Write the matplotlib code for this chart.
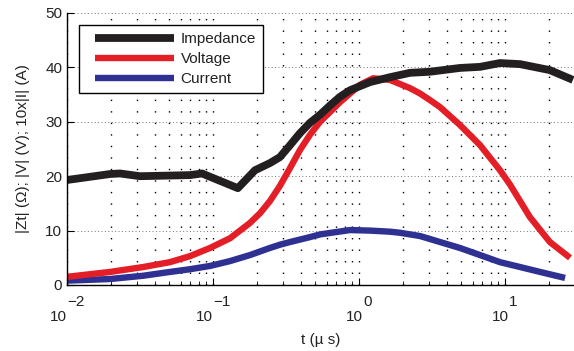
import numpy as np
import matplotlib.pyplot as plt
from matplotlib.ticker import NullFormatter, LogLocator

plt.rcParams['font.family'] = ['Liberation Sans', 'DejaVu Sans']

# time (us) and values
t_imp = [0.01, 0.0197, 0.0231, 0.0316, 0.0695, 0.0841, 0.148, 0.194, 0.245,
         0.287, 0.337, 0.394, 0.461, 0.541, 0.633, 0.741, 0.867, 1.19, 1.63,
         2.23, 3.06, 4.92, 6.75, 9.24, 12.7, 20.3, 29.2]
impedance = [19.3, 20.4, 20.5, 20.0, 20.2, 20.5, 17.8, 21.1, 22.4,
             23.5, 25.7, 27.9, 29.8, 31.3, 33.0, 34.6, 35.8, 37.3, 38.2,
             39.0, 39.2, 39.9, 40.1, 40.8, 40.6, 39.5, 37.7]

t_volt = [0.01, 0.0197, 0.0332, 0.0507, 0.0695, 0.0953, 0.131, 0.179, 0.210,
          0.245, 0.287, 0.337, 0.394, 0.461, 0.541, 0.741, 1.016, 1.25, 1.63,
          2.23, 2.62, 3.06, 3.59, 4.92, 6.75, 9.24, 10.8, 14.8, 20.3, 27.9]
voltage = [1.5, 2.4, 3.3, 4.2, 5.3, 6.8, 8.6, 11.4, 13.2,
           15.4, 18.2, 21.5, 24.8, 27.6, 30.0, 33.6, 36.8, 38.0, 37.7,
           36.2, 35.2, 34.0, 32.7, 29.4, 25.7, 21.1, 18.5, 12.5, 7.9, 5.0]

t_curr = [0.01, 0.0197, 0.0332, 0.0507, 0.0695, 0.0953, 0.131, 0.179, 0.245,
          0.287, 0.337, 0.461, 0.541, 0.867, 1.19, 1.63, 1.91, 2.62, 3.59,
          4.92, 6.75, 9.24, 12.7, 17.4, 25.8]
current = [0.8, 1.1, 1.7, 2.4, 2.9, 3.5, 4.4, 5.5, 6.8,
           7.4, 7.9, 8.8, 9.3, 10.1, 10.0, 9.8, 9.6, 9.0, 7.9,
           6.8, 5.5, 4.2, 3.3, 2.4, 1.3]

labels = ['Impedance', 'Voltage', 'Current']
decades = [-2, -1, 0, 1]

c_txt = '#222222'

fig = plt.figure(figsize=(5.74, 3.51), dpi=100)
ax = fig.add_axes([67/574, 1 - 285/351, 507/574, 272/351])

kw = dict(solid_capstyle='butt', solid_joinstyle='round')
hi, = ax.plot(t_curr, current, color='#2e3192', lw=4.6, **kw)
hv, = ax.plot(t_volt, voltage, color='#e41e26', lw=4.6, **kw)
hz, = ax.plot(t_imp, impedance, color='#231f20', lw=5.6, **kw)

ax.set_xscale('log')
ax.set_xlim(0.01, 29.7)
ax.set_ylim(0, 50)
ax.set_yticks([0, 10, 20, 30, 40, 50])
ax.xaxis.set_major_locator(LogLocator(base=10, numticks=10))
ax.xaxis.set_minor_locator(LogLocator(base=10, subs=np.arange(2, 10), numticks=20))
ax.xaxis.set_major_formatter(NullFormatter())
ax.xaxis.set_minor_formatter(NullFormatter())

for s in ['top', 'right']:
    ax.spines[s].set_visible(False)
for s in ['left', 'bottom']:
    ax.spines[s].set_linewidth(1.0)

ax.tick_params(which='both', direction='in', top=False, right=False,
               labelsize=11, labelcolor=c_txt)
ax.tick_params(axis='x', which='major', length=5)
ax.tick_params(axis='x', which='minor', length=3)
ax.tick_params(axis='y', which='major', length=5, pad=3.5)

ax.xaxis.grid(True, which='both', color='k', linestyle=(0, (1, 7.3)), linewidth=1.0)
ax.yaxis.grid(True, which='major', color='0.45', linestyle=(0, (1, 2.5)), linewidth=0.7)

# matlab-style 10^n tick labels
for e in decades:
    ex = str(e).replace('-', '\u2212')
    we = 8.5 * len(ex)
    off = (17 - we) / 2 * 0.72
    ax.annotate('10', xy=(10.0**e, 0), xycoords=('data', 'axes fraction'),
                xytext=(off, -23), textcoords='offset points',
                ha='right', va='center', fontsize=11, color=c_txt)
    ax.annotate(ex, xy=(10.0**e, 0), xycoords=('data', 'axes fraction'),
                xytext=(off, -12.2), textcoords='offset points',
                ha='left', va='center', fontsize=11, color=c_txt)

ax.set_xlabel('t (\u00b5 s)', fontsize=11, color=c_txt)
ax.xaxis.set_label_coords(0.5, -55/272)
ax.xaxis.label.set_va('center')
ax.set_ylabel('|Zt| (\u03a9); |V| (V); 10x|I| (A)', fontsize=11, color=c_txt)
ax.yaxis.set_label_coords(-44/507, 0.5)
ax.yaxis.label.set_va('center')

leg = ax.legend([hz, hv, hi], labels, loc='upper left',
                bbox_to_anchor=(79/574, 1 - 25/351), bbox_transform=fig.transFigure,
                borderaxespad=0, fancybox=False, edgecolor='k', framealpha=1,
                fontsize=11, handlelength=5.75, handletextpad=0.45,
                borderpad=0.45, labelspacing=0.4)
leg.get_frame().set_linewidth(1.0)
for t in leg.get_texts():
    t.set_color(c_txt)
# leave a blank gap before each legend line, as in the original
for ln in leg.get_lines():
    xd = np.asarray(ln.get_xdata(), dtype=float)
    ln.set_xdata(np.linspace(xd[0] + 9 * 0.72, xd[-1], len(xd)))
    ln.set_solid_capstyle('butt')

fig.savefig('out.png', dpi=100)
